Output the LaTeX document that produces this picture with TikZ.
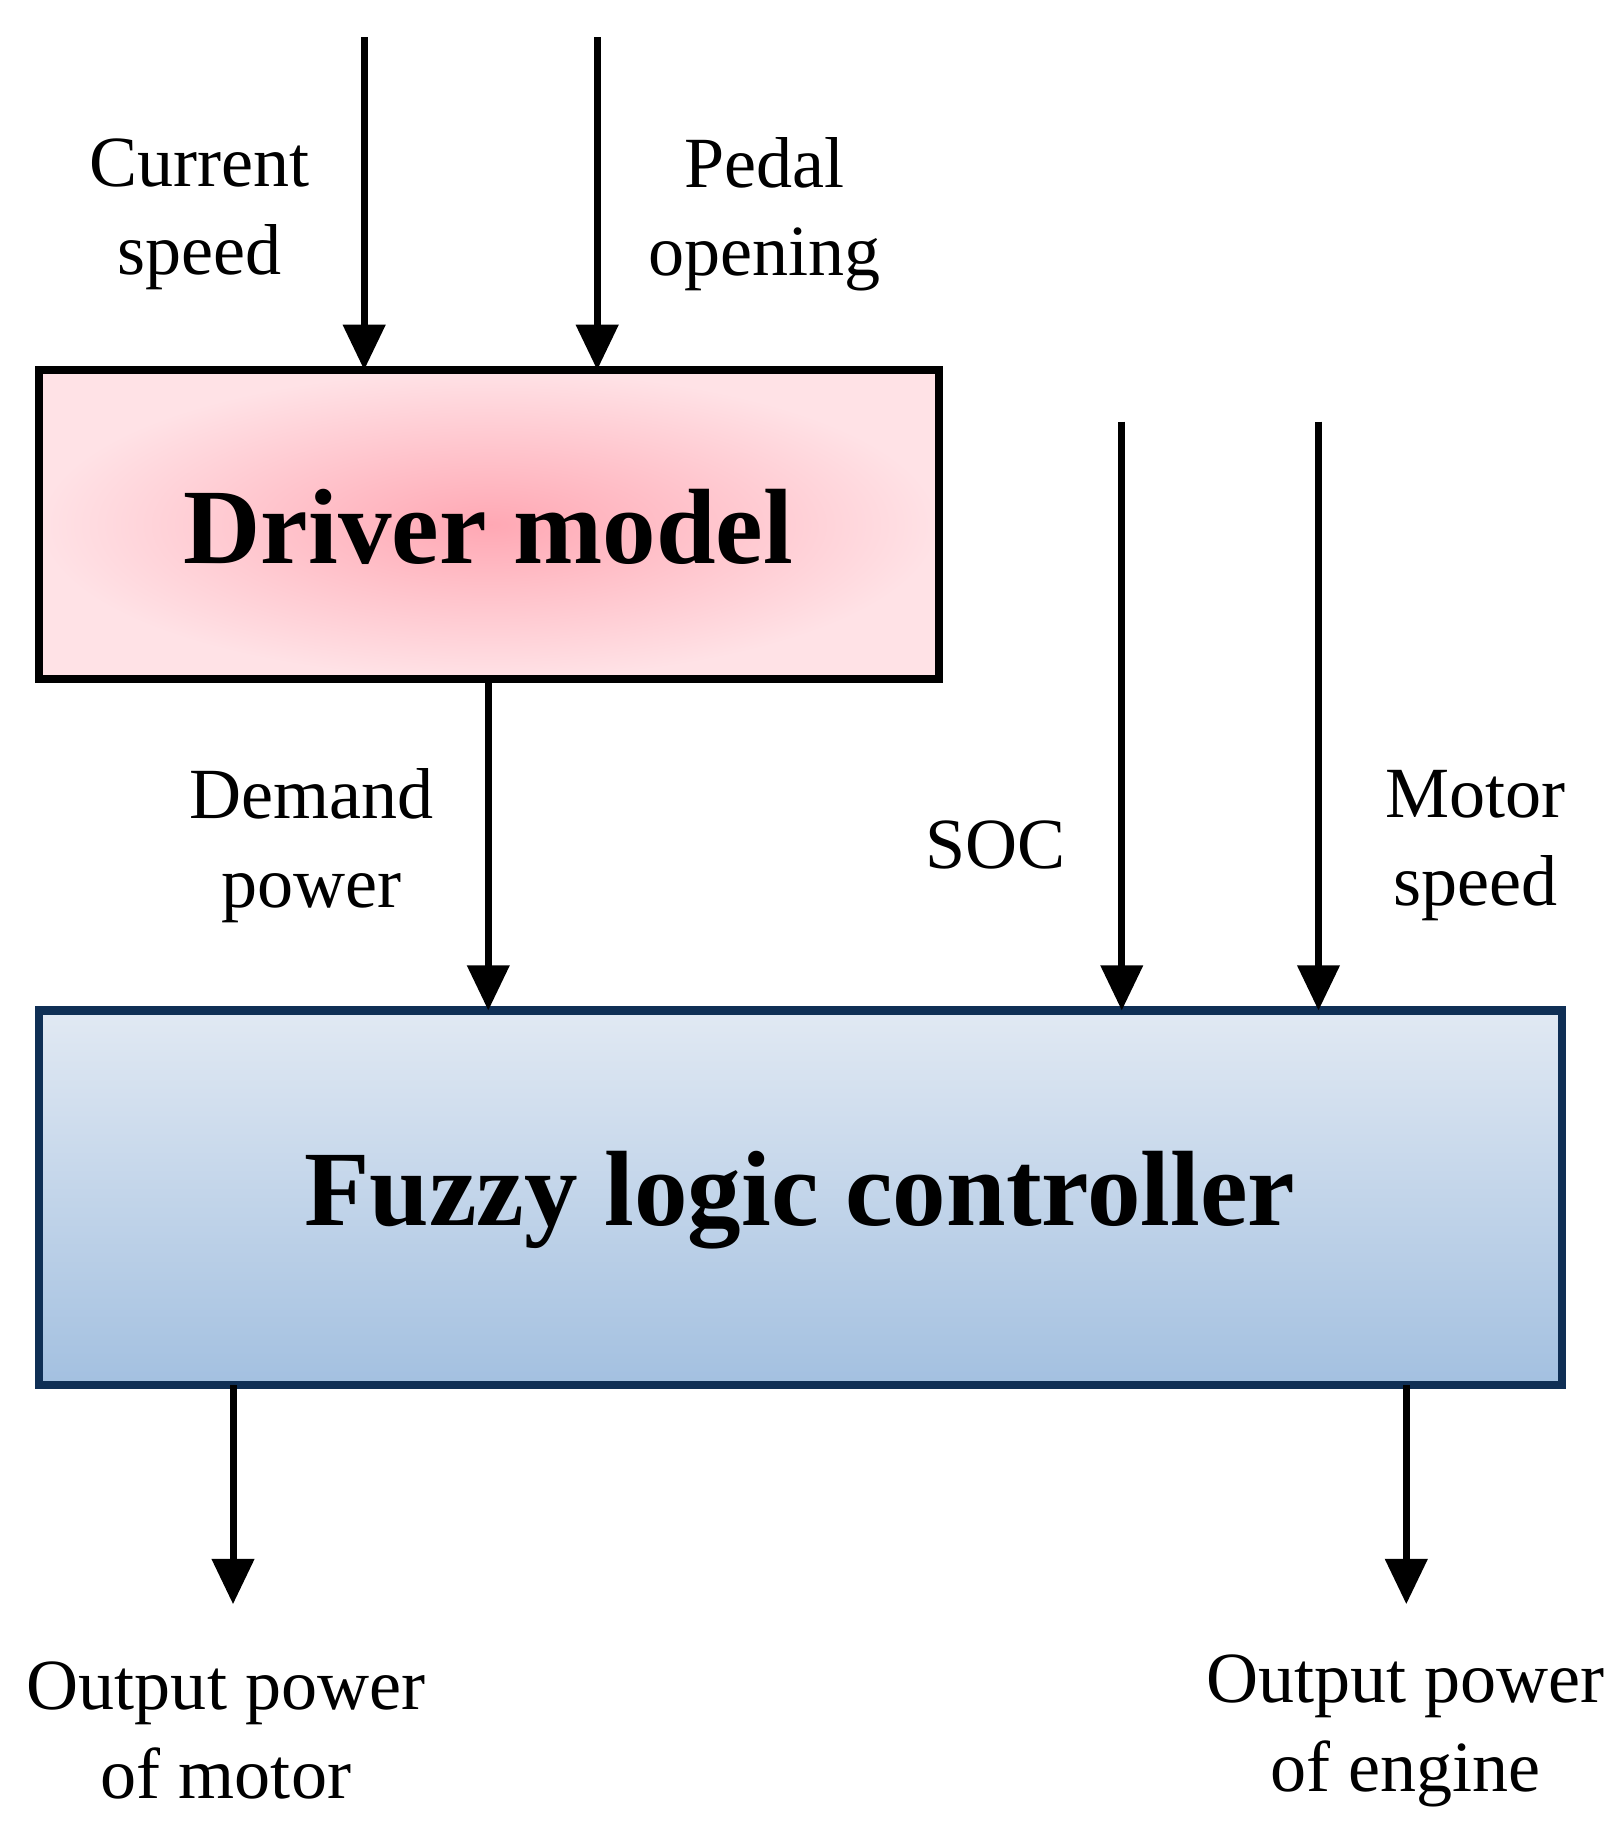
\documentclass[tikz,border=0pt]{standalone}
\usepackage{fontspec}
\setmainfont{Liberation Serif}
\usetikzlibrary{arrows.meta,shadings}
\definecolor{flctop}{HTML}{E1E9F3}
\definecolor{flcbot}{HTML}{A3C0E0}
\definecolor{flcline}{HTML}{0F2F55}
\definecolor{drvin}{HTML}{FFA8B4}
\definecolor{drvout}{HTML}{FFE2E6}
\begin{document}
\begin{tikzpicture}[x=0.01cm,y=-0.01cm,
  flow/.style={-{Triangle[length=11pt,width=10pt]},line width=1.7pt},
  label node/.style={align=center,font=\fontsize{17.5}{21.5}\selectfont},
  title node/.style={font=\fontsize{26}{30}\selectfont\bfseries}]
  \useasboundingbox (0,0) rectangle (1384,1556);

  \shade[inner color=drvin,outer color=drvout] (33,316) rectangle (802,580);
  \draw[line width=2pt] (33,316) rectangle (802,580);
  \node[title node] (driver) at (417,450) {Driver model};
  \shade[top color=flctop,bottom color=flcbot] (33,863) rectangle (1334,1183);
  \draw[line width=2pt,draw=flcline] (33,863) rectangle (1334,1183);
  \node[title node] (flc) at (683,1025) {Fuzzy logic controller};

  \coordinate (cs0) at (311,32);  \coordinate (cs1) at (311,316);
  \coordinate (po0) at (510,32);  \coordinate (po1) at (510,316);
  \coordinate (dp0) at (417,580); \coordinate (dp1) at (417,863);
  \coordinate (soc0) at (958,360); \coordinate (soc1) at (958,863);
  \coordinate (ms0) at (1126,360); \coordinate (ms1) at (1126,863);
  \coordinate (om0) at (199,1183); \coordinate (om1) at (199,1370);
  \coordinate (oe0) at (1201,1183); \coordinate (oe1) at (1201,1370);

  \draw[flow] (cs0) -- (cs1);
  \draw[flow] (po0) -- (po1);
  \draw[flow] (dp0) -- (dp1);
  \draw[flow] (soc0) -- (soc1);
  \draw[flow] (ms0) -- (ms1);
  \draw[flow] (om0) -- (om1);
  \draw[flow] (oe0) -- (oe1);

  \node[label node] (speed) at (170,183) {Current\\speed};
  \node[label node] (pedal) at (653,183) {Pedal\\opening};
  \node[label node] (demand) at (266,722) {Demand\\power};
  \node[label node] (soc) at (850,722) {SOC};
  \node[label node] (motor) at (1260,722) {Motor\\speed};
  \node[label node] (outm) at (193,1478) {Output power\\of motor};
  \node[label node] (oute) at (1200,1478) {Output power\\of engine};
\end{tikzpicture}
\end{document}
